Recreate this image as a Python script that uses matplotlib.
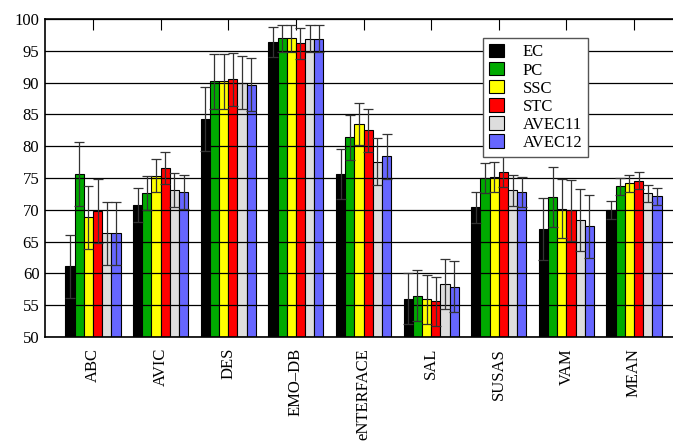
import matplotlib.pyplot as plt
import numpy as np

plt.rcParams['font.family'] = ['Liberation Serif', 'DejaVu Serif']

datasets = ['ABC', 'AVIC', 'DES', 'EMO\u2013DB', 'eNTERFACE', 'SAL', 'SUSAS', 'VAM', 'MEAN']
methods = ['EC', 'PC', 'SSC', 'STC', 'AVEC11', 'AVEC12']
colors = ['#000000', '#00aa00', '#ffff00', '#ff0000', '#dddddd', '#6666ff']

# mean accuracy per dataset for each method
ec = [61.1, 70.8, 84.3, 96.4, 75.6, 56.0, 70.4, 67.0, 70.0]
pc = [75.6, 72.7, 90.2, 97.0, 81.4, 56.5, 75.0, 72.0, 73.7]
ssc = [68.8, 75.4, 90.2, 97.0, 83.5, 55.9, 75.2, 70.2, 74.2]
stc = [69.8, 76.6, 90.5, 96.2, 82.5, 55.6, 76.0, 69.9, 74.6]
avec11 = [66.3, 73.1, 90.0, 96.9, 77.6, 58.3, 73.1, 68.4, 72.6]
avec12 = [66.3, 72.8, 89.7, 96.9, 78.4, 57.9, 72.8, 67.4, 72.1]

# standard deviations
ec_sd = [5.0, 2.7, 5.0, 2.3, 3.9, 4.0, 2.4, 4.9, 1.4]
pc_sd = [5.0, 2.7, 4.3, 2.1, 3.5, 4.0, 2.35, 4.7, 1.3]
ssc_sd = [5.0, 2.6, 4.3, 2.1, 3.35, 3.9, 2.35, 4.7, 1.35]
stc_sd = [5.0, 2.5, 4.2, 2.4, 3.4, 3.9, 2.4, 4.85, 1.3]
avec11_sd = [5.0, 2.65, 4.2, 2.15, 3.7, 3.9, 2.45, 4.85, 1.35]
avec12_sd = [5.0, 2.65, 4.2, 2.15, 3.6, 4.0, 2.4, 4.9, 1.3]

values = [ec, pc, ssc, stc, avec11, avec12]
errors = [ec_sd, pc_sd, ssc_sd, stc_sd, avec11_sd, avec12_sd]

fig = plt.figure(figsize=(6.73, 4.44), dpi=100)
ax = fig.add_axes([0.0669, 0.241, 0.9465, 0.716])

x = np.arange(len(datasets))
w = 0.136
for i in range(len(methods)):
    pos = x + (i - 2.5) * w
    ax.bar(pos, np.array(values[i]) - 50, w, bottom=50, color=colors[i],
           edgecolor='black', linewidth=0.8, label=methods[i], zorder=1)
    ax.errorbar(pos, values[i], yerr=errors[i], fmt='none', ecolor='#333333',
                elinewidth=0.9, capsize=3.5, capthick=0.9, zorder=3)

ax.set_xlim(-0.71, 8.71)
ax.set_ylim(50, 100)
ax.set_yticks(np.arange(50, 101, 5))
ax.yaxis.grid(True, color='black', linewidth=0.9)
ax.set_axisbelow(False)
ax.set_xticks(x)
ax.set_xticklabels(datasets, rotation=90, fontsize=12)
ax.tick_params(axis='x', top=True, bottom=False, direction='in', length=8, pad=8)
ax.tick_params(axis='y', length=0, labelsize=12, pad=4)
for s in ax.spines.values():
    s.set_linewidth(1.2)

fig.legend(loc='upper left', bbox_to_anchor=(0.718, 0.914), bbox_transform=fig.transFigure,
           fancybox=False, edgecolor='#555555', fontsize=12, handlelength=0.9,
           handleheight=0.85, labelspacing=0.1, handletextpad=1.1, borderpad=0.35,
           borderaxespad=0, framealpha=1)

fig.savefig('out.png', dpi=100)
